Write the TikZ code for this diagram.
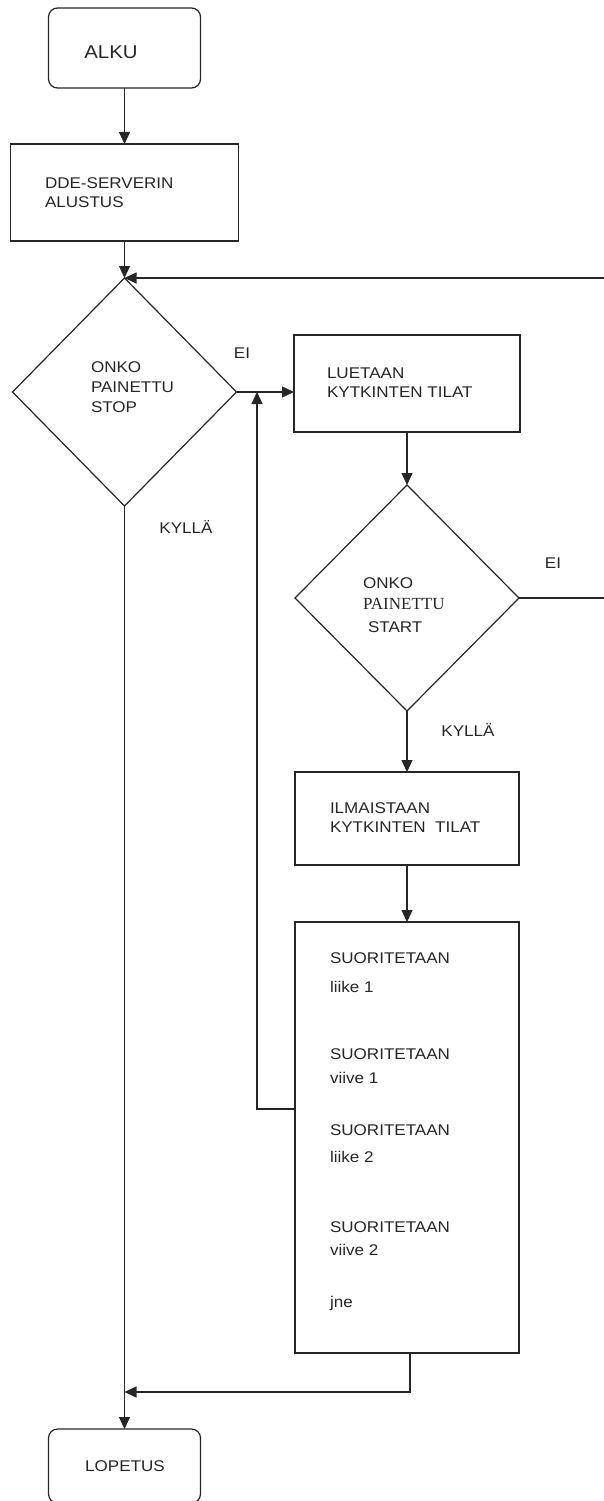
\documentclass[tikz,border=0pt]{standalone}
\usepackage{fontspec}
\setmainfont{Liberation Sans}[FakeStretch=1.1]
\newfontfamily\serifpart{Liberation Serif}
\usetikzlibrary{arrows.meta,shapes.geometric}
\begin{document}
\begin{tikzpicture}[x=1pt,y=-1pt,
  line/.style={draw=black!85, line width=1.2pt},
  arr/.style={line, -{Triangle[length=12pt,width=11pt]}},
  boxst/.style={draw=black!85, line width=1.2pt, rectangle, inner sep=0pt, outer sep=0pt},
  termst/.style={boxst, rounded corners=9pt},
  decst/.style={draw=black!85, line width=1.2pt, diamond, inner sep=0pt, outer sep=0pt, minimum width=224pt, minimum height=228pt},
  txt/.style={inner sep=0pt, outer sep=0pt, font=\fontsize{15.5}{19.5}\selectfont, text=black!85, align=left, anchor=west},
]
\useasboundingbox (0,0) rectangle (604,1501);

% start
\node[termst, minimum width=152pt, minimum height=80pt] (alku) at (124.5,48) {};
\node[txt, anchor=center, font=\fontsize{18.5}{22}\selectfont] (alkut) at (111,52) {ALKU};

\node[boxst, minimum width=228pt, minimum height=97pt] (dde) at (124.5,192.5) {};
\node[txt] (ddet) at (45,192.5) {DDE-SERVERIN\\ALUSTUS};

% decision 1
\node[decst] (d1) at (124.5,392) {};
\node[txt, font=\fontsize{15.5}{20}\selectfont] (d1t) at (91,387) {ONKO\\PAINETTU\\STOP};
\node[txt, anchor=center] (ei1) at (242,353) {EI};
\node[txt, anchor=center] (ky1) at (186,527) {KYLLÄ};

% read
\node[boxst, minimum width=226pt, minimum height=97pt] (lue) at (407,383.5) {};
\node[txt] (luet) at (327,382.5) {LUETAAN\\KYTKINTEN TILAT};

% decision 2
\node[decst, minimum height=226pt] (d2) at (407,598) {};
\node[txt] (d2a) at (363,583) {ONKO};
\node[txt, font=\fontsize{17}{20}\serifpart] (d2b) at (363,604) {PAINETTU};
\node[txt] (d2c) at (368,627) {START};
\node[txt, anchor=center] (ei2) at (553,563) {EI};
\node[txt, anchor=center] (ky2) at (468,730) {KYLLÄ};

% show
\node[boxst, minimum width=224pt, minimum height=93pt] (ilm) at (407,818.5) {};
\node[txt] (ilmt) at (330,817.5) {ILMAISTAAN\\KYTKINTEN\ \ TILAT};

% execute
\node[boxst, minimum width=224pt, minimum height=431pt] (big) at (407,1137.5) {};
\node[txt] (s1) at (330,958) {SUORITETAAN};
\node[txt] (s1b) at (330,987) {liike 1};
\node[txt] (s2) at (330,1054) {SUORITETAAN};
\node[txt] (s2b) at (330,1078) {viive 1};
\node[txt] (s3) at (330,1130) {SUORITETAAN};
\node[txt] (s3b) at (330,1157) {liike 2};
\node[txt] (s4) at (330,1227) {SUORITETAAN};
\node[txt] (s4b) at (330,1250) {viive 2};
\node[txt] (s5) at (330,1303) {jne};

% end
\node[termst, minimum width=152pt, minimum height=74pt] (lop) at (124.5,1466) {};
\node[txt, anchor=center] (lopt) at (125,1466) {LOPETUS};

% connectors
\coordinate (rt) at (608,598);
\coordinate (lp) at (295,1109);
\coordinate (lx) at (257,392);
\coordinate (rb) at (410,1392);

\draw[arr] (alku.south) -- (dde.north);
\draw[arr] (dde.south) -- (d1.north);
\draw[arr] (d2.east) -- (rt) |- (d1.north);
\draw[arr] (d1.east) -- (d1.east -| lue.west);
\draw[arr] (lp) -| (lx);
\draw[arr] (lue.south) -- (d2.north);
\draw[arr] (d2.south) -- (ilm.north);
\draw[arr] (ilm.south) -- (big.north);
\draw[arr] (d1.south) -- (lop.north);
\draw[arr] (big.south -| rb) -- (rb) -- (rb -| d1.south);
\end{tikzpicture}
\end{document}
